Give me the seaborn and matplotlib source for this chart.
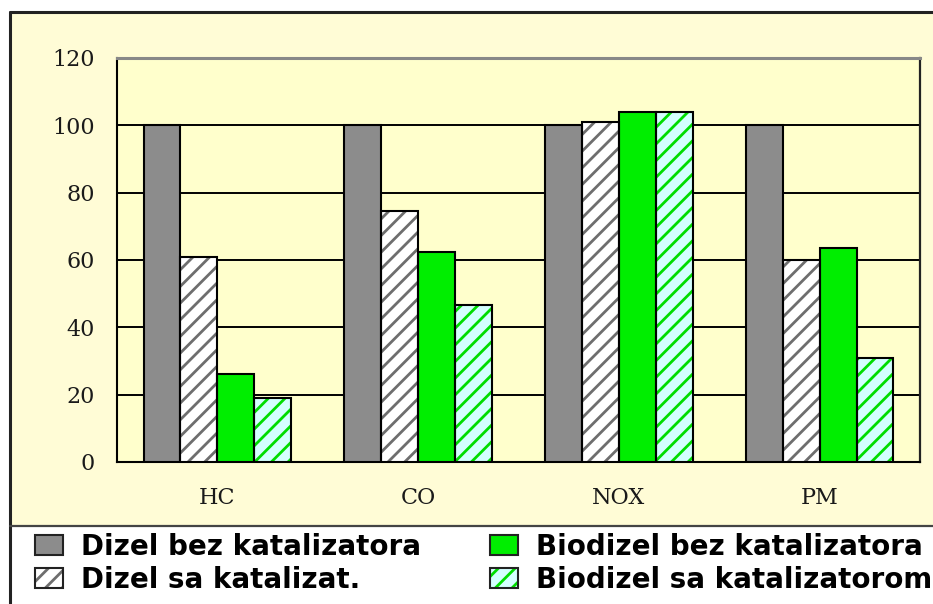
import matplotlib
matplotlib.use("Agg")
import matplotlib.pyplot as plt
from matplotlib.patches import Rectangle, Patch
from matplotlib.lines import Line2D
import seaborn as sns
import pandas as pd

categories = ["HC", "CO", "NOX", "PM"]
series = ["Dizel bez katalizatora", "Dizel sa katalizat.",
          "Biodizel bez katalizatora", "Biodizel sa katalizatorom"]
dizel_bez = [100, 100, 100, 100]
dizel_sa = [61, 74.5, 101, 60]
biodizel_bez = [26, 62.5, 104, 63.5]
biodizel_sa = [19, 46.5, 104, 31]
y_ticks = [0, 20, 40, 60, 80, 100, 120]

values = [dizel_bez, dizel_sa, biodizel_bez, biodizel_sa]
rows = []
for s, vals in zip(series, values):
    for c, v in zip(categories, vals):
        rows.append({"cat": c, "series": s, "val": v})
df = pd.DataFrame(rows)

face = ["#8c8c8c", "#ffffff", "#00ee00", "#d4ffff"]
hatchcol = [None, "#6e6e6e", None, "#00dd00"]
hatches = [None, "//", None, "//"]

sns.set_style("white")
plt.rcParams["hatch.linewidth"] = 2.0

W, H = 933, 604
fig = plt.figure(figsize=(W / 100, H / 100), dpi=100)
fig.patch.set_facecolor("white")

fx = lambda px: px / W
fy = lambda py: 1 - py / H
fig.add_artist(Rectangle((fx(10), fy(526)), 1 - fx(10), fy(12) - fy(526),
                         transform=fig.transFigure, facecolor="#fffcd6",
                         edgecolor="none", zorder=-10))
fig.add_artist(Line2D([fx(10), 1], [fy(12), fy(12)], transform=fig.transFigure,
                      color="#222222", lw=2.2))
fig.add_artist(Line2D([fx(10), fx(10)], [0, fy(12)], transform=fig.transFigure,
                      color="#222222", lw=2.2))
fig.add_artist(Line2D([fx(10), 1], [fy(526), fy(526)], transform=fig.transFigure,
                      color="#444444", lw=1.6))

ax = fig.add_axes([fx(117), fy(462), (920 - 117) / W, fy(58) - fy(462)])
ax.set_facecolor("#ffffcc")

sns.barplot(data=df, x="cat", y="val", hue="series", hue_order=series,
            order=categories, palette=face, saturation=1, width=0.735,
            legend=False, ax=ax, zorder=3)

for i, cont in enumerate(ax.containers):
    for p in cont.patches:
        if hatches[i]:
            p.set_hatch(hatches[i])
            p.set_edgecolor(hatchcol[i])
            p.set_linewidth(0)
        else:
            p.set_edgecolor("none")
            p.set_linewidth(0)
        ax.add_patch(Rectangle((p.get_x(), p.get_y()), p.get_width(), p.get_height(),
                               fill=False, edgecolor="black", lw=1.5, zorder=4))

ax.set_ylim(0, 120)
ax.set_xlim(-0.5, 3.5)
ax.set_yticks(y_ticks)
ax.set_yticklabels([str(t) for t in y_ticks])
ax.set_xlabel("")
ax.set_ylabel("")
ax.yaxis.grid(True, color="black", lw=1.4, zorder=0)
ax.set_axisbelow(True)

for s in ["left", "bottom"]:
    ax.spines[s].set_color("black")
    ax.spines[s].set_linewidth(1.5)
ax.spines["right"].set_color("#222222")
ax.spines["right"].set_linewidth(1.6)
ax.spines["top"].set_color("#888888")
ax.spines["top"].set_linewidth(2.2)

ax.tick_params(axis="y", direction="out", length=7, width=1.4, color="black", pad=9)
ax.tick_params(axis="x", which="major", length=0, pad=18)
ax.set_xticks([-0.5, 0.5, 1.5, 2.5, 3.5], minor=True)
ax.tick_params(axis="x", which="minor", direction="out", length=6, width=1.4, color="black")
for lab in ax.get_xticklabels() + ax.get_yticklabels():
    lab.set_fontfamily("DejaVu Serif")
    lab.set_fontsize(16)
    lab.set_color("#1a1a1a")

def handle(i):
    if hatches[i]:
        h = Patch(facecolor=face[i], edgecolor=hatchcol[i], hatch=hatches[i], lw=0)
    else:
        h = Patch(facecolor=face[i], edgecolor="none", lw=0)
    o = Patch(facecolor="none", edgecolor="#222222", lw=1.5)
    return (h, o)

leg_kw = dict(frameon=False, loc="upper left", borderpad=0, borderaxespad=0,
              handlelength=1.0, handleheight=0.75, handletextpad=0.65,
              labelspacing=0.17, labelcolor="black",
              prop={"family": "DejaVu Sans", "weight": "bold", "size": 20})
l1 = fig.legend([handle(0), handle(1)], series[:2], bbox_to_anchor=(fx(35), fy(533)), **leg_kw)
l2 = fig.legend([handle(2), handle(3)], series[2:], bbox_to_anchor=(fx(490), fy(533)), **leg_kw)

fig.savefig("out.png", dpi=100)
